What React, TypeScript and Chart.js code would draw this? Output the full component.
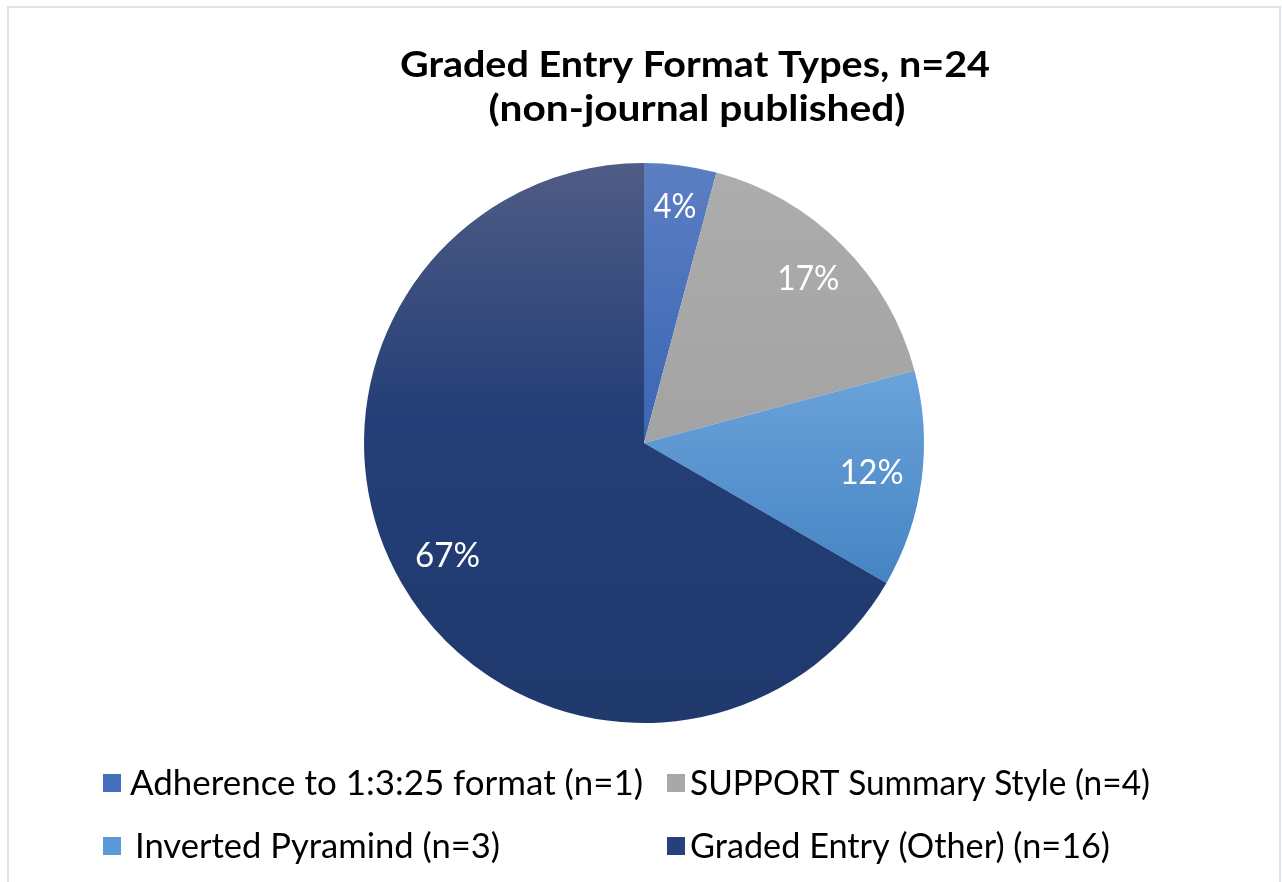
import React, { useEffect, useRef } from "react";
import { Chart, registerables } from "chart.js";
Chart.register(...registerables);

const categories = [
  "Adherence to 1:3:25 format (n=1)",
  "SUPPORT Summary Style (n=4)",
  "Inverted Pyramind (n=3)",
  "Graded Entry (Other) (n=16)",
];
const counts = [1, 4, 3, 16];
const percentLabels = ["4%", "17%", "12%", "67%"];
const titleLines = ["Graded Entry Format Types, n=24", "(non-journal published)"];
// gradient stops per slice: [offset, color]
const sliceGradients: [number, string][][] = [
  [[0, "#5c7ec3"], [0.5, "#3a66b3"], [1, "#3a66b3"]],
  [[0, "#adadad"], [0.5, "#a3a3a3"], [1, "#a0a0a0"]],
  [[0, "#72a9de"], [0.37, "#6ba3da"], [0.75, "#4584c4"], [1, "#4584c4"]],
  [[0, "#4f5c85"], [0.45, "#243f77"], [1, "#1f396d"]],
];
const legendColors = ["#4370bd", "#a8a8a8", "#5b9bd5", "#25407a"];

const FONT = "Lato, 'Open Sans', sans-serif";

// draw text at given font size, horizontally scaled to the target width
function drawFit(
  ctx: CanvasRenderingContext2D,
  text: string,
  x: number,
  y: number,
  size: number,
  weight: string,
  target: number,
  align: "left" | "center"
) {
  ctx.font = `${weight} ${size}px ${FONT}`;
  const w = ctx.measureText(text).width;
  const sx = target / w;
  ctx.save();
  ctx.translate(x, y);
  ctx.scale(sx, 1);
  ctx.textAlign = align;
  ctx.fillText(text, 0, 0);
  ctx.restore();
}

const decorPlugin = {
  id: "decor",
  beforeDraw(chart: any) {
    const ctx = chart.ctx as CanvasRenderingContext2D;
    ctx.save();
    ctx.fillStyle = "#ffffff";
    ctx.fillRect(0, 0, chart.width, chart.height);
    ctx.strokeStyle = "#dde3ec";
    ctx.lineWidth = 2;
    ctx.strokeRect(8, 7, 1272, 1000);
    ctx.restore();
  },
  afterDraw(chart: any) {
    const ctx = chart.ctx as CanvasRenderingContext2D;
    ctx.save();
    // title
    ctx.fillStyle = "#000000";
    ctx.textBaseline = "alphabetic";
    drawFit(ctx, titleLines[0], 695, 77, 36, "bold", 590, "center");
    drawFit(ctx, titleLines[1], 697, 121, 36, "bold", 417, "center");

    // percent labels
    const meta = chart.getDatasetMeta(0);
    const pWidths = [43, 62, 64, 65];
    const pRadius = [0.85, 0.83, 0.82, 0.81];
    ctx.fillStyle = "#ffffff";
    ctx.textBaseline = "middle";
    meta.data.forEach((arc: any, i: number) => {
      const p = arc.getProps(["x", "y", "startAngle", "endAngle", "outerRadius"], true);
      const mid = (p.startAngle + p.endAngle) / 2;
      const r = p.outerRadius * pRadius[i];
      drawFit(ctx, percentLabels[i], p.x + r * Math.cos(mid), p.y + r * Math.sin(mid), 34, "normal", pWidths[i], "center");
    });

    // legend
    ctx.textBaseline = "alphabetic";
    const cols = [103, 667];
    const rows = [783, 846];
    const lWidths = [513, 460, 365, 420];
    const lOffsets = [27, 23, 32, 23];
    categories.forEach((label, i) => {
      const cx = cols[i % 2];
      const cy = rows[Math.floor(i / 2)];
      ctx.fillStyle = legendColors[i];
      ctx.fillRect(cx, cy - 9, 18, 18);
      ctx.fillStyle = "#000000";
      drawFit(ctx, label, cx + lOffsets[i], cy + 12, 34, "normal", lWidths[i], "left");
    });
    ctx.restore();
  },
};

export default function App() {
  const ref = useRef<HTMLCanvasElement>(null);
  useEffect(() => {
    if (!ref.current) return;
    const chart = new Chart(ref.current, {
      type: "pie",
      data: {
        labels: categories,
        datasets: [
          {
            data: counts,
            borderWidth: 0,
            backgroundColor: (c: any) => {
              const area = c.chart.chartArea;
              const stops = sliceGradients[c.dataIndex];
              if (!area || !stops) return "#888";
              const g = c.chart.ctx.createLinearGradient(0, area.top, 0, area.bottom);
              stops.forEach(([o, col]) => g.addColorStop(o, col));
              return g;
            },
          },
        ],
      },
      options: {
        responsive: false,
        animation: false,
        devicePixelRatio: 1,
        layout: { padding: { left: 364, right: 358, top: 163, bottom: 159 } },
        plugins: {
          legend: { display: false },
          title: { display: false },
          tooltip: { enabled: false },
        },
      },
      plugins: [decorPlugin],
    });
    return () => chart.destroy();
  }, []);
  return (
    <div style={{ position: "fixed", left: 0, top: 0, width: 1282, height: 882, background: "#fff" }}>
      <canvas ref={ref} width={1282} height={882} style={{ display: "block" }} />
    </div>
  );
}
